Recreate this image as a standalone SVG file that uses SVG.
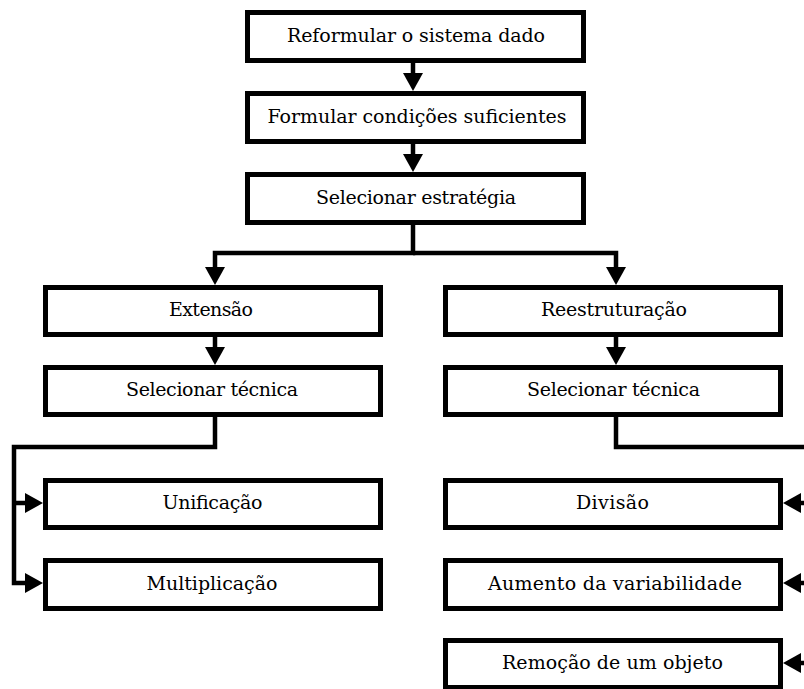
<svg xmlns="http://www.w3.org/2000/svg" width="804" height="689" viewBox="0 0 804 689">
  <style>
    .box { fill: #ffffff; stroke: #000000; stroke-width: 5; }
    .lbl { font-family: "DejaVu Serif", "Liberation Serif", serif; font-size: 19px; fill: #000000; text-anchor: middle; }
    .wire { fill: none; stroke: #000000; stroke-width: 4.5; stroke-linejoin: miter; stroke-linecap: butt; }
  </style>
  <defs>
    <marker id="head" viewBox="0 0 18 20" markerWidth="18" markerHeight="20" refX="0" refY="10" orient="auto" markerUnits="userSpaceOnUse">
      <path d="M0,0 L18,10 L0,20 Z" fill="#000000"/>
    </marker>
  </defs>
  <rect width="804" height="689" fill="#ffffff"/>

  <!-- connectors -->
  <g id="connectors">
    <path class="wire" d="M413,62 V73" marker-end="url(#head)"/>
    <path class="wire" d="M413,143 V154" marker-end="url(#head)"/>
    <path class="wire" d="M413,224 V253 H215 V267" marker-end="url(#head)"/>
    <path class="wire" d="M413,253 H616 V267" marker-end="url(#head)"/>
    <path class="wire" d="M215,336 V347" marker-end="url(#head)"/>
    <path class="wire" d="M616,336 V347" marker-end="url(#head)"/>
    <path class="wire" d="M215,416 V447 H14 V583 H25" marker-end="url(#head)"/>
    <path class="wire" d="M14,503 H25" marker-end="url(#head)"/>
    <path class="wire" d="M616,416 V447 H812 V663 H801" marker-end="url(#head)"/>
    <path class="wire" d="M812,503 H801" marker-end="url(#head)"/>
    <path class="wire" d="M812,583 H801" marker-end="url(#head)"/>
  </g>

  <!-- main sequence -->
  <g id="reformular">
    <rect class="box" x="247.5" y="12.5" width="336" height="48"/>
    <text class="lbl" x="416" y="42" textLength="258" lengthAdjust="spacing">Reformular o sistema dado</text>
  </g>
  <g id="formular">
    <rect class="box" x="247.5" y="93.5" width="336" height="48"/>
    <text class="lbl" x="417" y="123" textLength="299" lengthAdjust="spacing">Formular condições suficientes</text>
  </g>
  <g id="estrategia">
    <rect class="box" x="247.5" y="174.5" width="336" height="48"/>
    <text class="lbl" x="416" y="204" textLength="200" lengthAdjust="spacing">Selecionar estratégia</text>
  </g>

  <!-- extension branch -->
  <g id="extensao">
    <rect class="box" x="45.5" y="287.5" width="335" height="47"/>
    <text class="lbl" x="211" y="316" textLength="84" lengthAdjust="spacing">Extensão</text>
  </g>
  <g id="tecnica-ext">
    <rect class="box" x="45.5" y="367.5" width="335" height="47"/>
    <text class="lbl" x="212" y="396" textLength="172" lengthAdjust="spacing">Selecionar técnica</text>
  </g>
  <g id="unificacao">
    <rect class="box" x="45.5" y="480.5" width="335" height="47"/>
    <text class="lbl" x="212.5" y="509" textLength="100" lengthAdjust="spacing">Unificação</text>
  </g>
  <g id="multiplicacao">
    <rect class="box" x="45.5" y="560.5" width="335" height="48"/>
    <text class="lbl" x="212" y="590" textLength="131" lengthAdjust="spacing">Multiplicação</text>
  </g>

  <!-- restructuring branch -->
  <g id="reestruturacao">
    <rect class="box" x="445.5" y="287.5" width="335" height="47"/>
    <text class="lbl" x="614" y="316" textLength="146" lengthAdjust="spacing">Reestruturação</text>
  </g>
  <g id="tecnica-reest">
    <rect class="box" x="445.5" y="367.5" width="335" height="47"/>
    <text class="lbl" x="613.5" y="396" textLength="173" lengthAdjust="spacing">Selecionar técnica</text>
  </g>
  <g id="divisao">
    <rect class="box" x="445.5" y="480.5" width="335" height="47"/>
    <text class="lbl" x="612.5" y="509" textLength="73" lengthAdjust="spacing">Divisão</text>
  </g>
  <g id="variabilidade">
    <rect class="box" x="445.5" y="560.5" width="335" height="48"/>
    <text class="lbl" x="615" y="590" textLength="254" lengthAdjust="spacing">Aumento da variabilidade</text>
  </g>
  <g id="remocao">
    <rect class="box" x="445.5" y="640.5" width="335" height="47"/>
    <text class="lbl" x="612.5" y="669" textLength="221" lengthAdjust="spacing">Remoção de um objeto</text>
  </g>
</svg>
